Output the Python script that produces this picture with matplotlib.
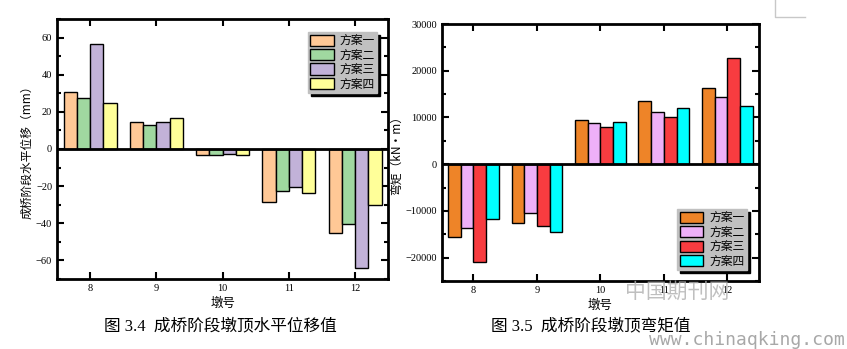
import matplotlib.pyplot as plt
from matplotlib.lines import Line2D
import numpy as np

# pier numbers and the four schemes
piers = [8, 9, 10, 11, 12]
schemes = ['方案一', '方案二', '方案三', '方案四']

# horizontal displacement of pier tops (mm)
disp = [
    [30.5, 14.3, -3.2, -28.6, -45.2],
    [27.7, 12.7, -3.2, -22.7, -40.4],
    [56.7, 14.8, -2.8, -20.5, -64.0],
    [24.5, 16.5, -3.2, -23.8, -30.2],
]
# bending moment of pier tops (kN·m)
moment = [
    [-15600, -12600, 9550, 13420, 16210],
    [-13700, -10450, 8900, 11270, 14280],
    [-21000, -13250, 8050, 10190, 22670],
    [-11750, -14550, 9120, 12130, 12560],
]

colors_disp = ['#FFC896', '#A0D8A0', '#C2B2D8', '#FFFF99']
colors_moment = ['#EE8428', '#EEB0F8', '#F83C40', '#00FFFF']

cjk = ['Noto Sans CJK SC', 'DejaVu Sans']
serif = ['Liberation Serif', 'Noto Sans CJK SC']
plt.rcParams['font.family'] = serif

fig = plt.figure(figsize=(8.47, 3.49), dpi=100)
ax1 = fig.add_axes([0.0673, 0.2006, 0.391, 0.745])
ax2 = fig.add_axes([0.5215, 0.1948, 0.3746, 0.7364])

w = 0.2
x = np.array(piers, dtype=float)


def draw(ax, data, colors):
    for i, vals in enumerate(data):
        ax.bar(x + (i - 1.5) * w, vals, width=w, color=colors[i],
               edgecolor='black', linewidth=1.0, label=schemes[i], zorder=2)
    ax.axhline(0, color='black', lw=2, zorder=3)
    ax.set_xlim(7.5, 12.5)
    ax.set_xticks(piers)
    ax.tick_params(which='both', direction='in', top=True, right=True,
                   labelsize=7.5, width=1.5)
    ax.tick_params(which='major', length=5)
    ax.tick_params(which='minor', length=3)
    ax.tick_params(axis='x', which='minor', top=False, bottom=False)
    for s in ax.spines.values():
        s.set_linewidth(2)
    leg_kw = dict(fancybox=False, shadow={'color': 'black', 'alpha': 1, 'ox': 2, 'oy': -2},
                  facecolor='#C0C0C0', edgecolor='#C0C0C0', framealpha=1,
                  prop={'family': cjk, 'size': 8.5}, handlelength=2.0,
                  handleheight=1.1, labelspacing=0.12, borderpad=0.2,
                  handletextpad=0.5, borderaxespad=0)
    return leg_kw


kw = draw(ax1, disp, colors_disp)
ax1.set_ylim(-70, 70)
ax1.set_yticks([-60, -40, -20, 0, 20, 40, 60])
ax1.set_yticks(np.arange(-70, 71, 10), minor=True)
ax1.set_ylabel('成桥阶段水平位移（mm）', family=cjk, fontsize=8.5, labelpad=2)
ax1.set_xlabel('墩号', family=cjk, fontsize=9, labelpad=3)
ax1.legend(loc='upper right', bbox_to_anchor=(0.967, 0.95), **kw)

kw = draw(ax2, moment, colors_moment)
ax2.set_ylim(-25000, 30000)
ax2.set_yticks([-20000, -10000, 0, 10000, 20000, 30000])
ax2.set_yticks(np.arange(-25000, 30001, 5000), minor=True)
ax2.set_ylabel('弯矩（kN·m）', family=cjk, fontsize=8.5, labelpad=2)
ax2.set_xlabel('墩号', family=cjk, fontsize=9, labelpad=3)
ax2.legend(loc='lower right', bbox_to_anchor=(0.962, 0.043), **kw)

# figure captions
fig.text(0.26, 0.065, '图 3.4  成桥阶段墩顶水平位移值', ha='center', va='center',
         fontsize=12, family=serif)
fig.text(0.697, 0.065, '图 3.5  成桥阶段墩顶弯矩值', ha='center', va='center',
         fontsize=12, family=serif)

# page corner mark
fig.add_artist(Line2D([0.915, 0.915, 0.951], [1.0, 0.952, 0.952],
                      transform=fig.transFigure, color='#C8C8C8', lw=1))

# site watermarks
fig.text(0.80, 0.165, '中国期刊网', ha='center', va='center', fontsize=15,
         color='#B0B0B0', family=cjk, alpha=0.8)
fig.text(0.997, 0.025, 'www.chinaqking.com', ha='right', va='center', fontsize=13,
         color='#A8A8A8', family=['DejaVu Sans Mono'])

fig.savefig('out.png', dpi=100)
